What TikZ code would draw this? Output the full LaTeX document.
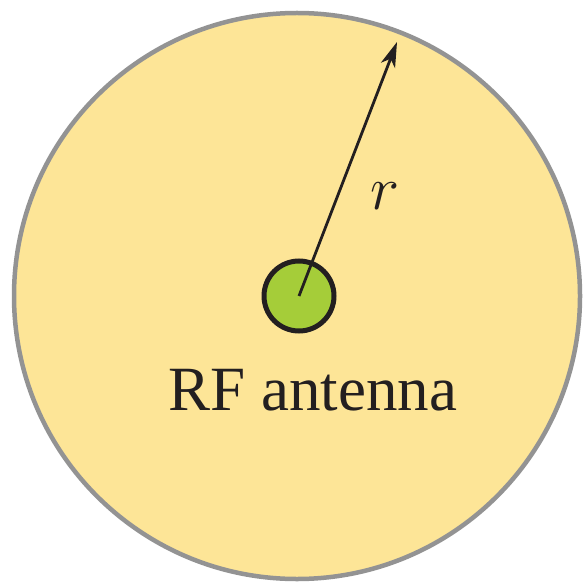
\documentclass[tikz,border=0pt]{standalone}
\usepackage{fix-cm}
\usepackage{fontspec}
\setmainfont{Liberation Serif}
\usetikzlibrary{arrows.meta}
\definecolor{bgyellow}{HTML}{FDE597}
\definecolor{rimgray}{HTML}{939393}
\definecolor{antgreen}{HTML}{A5CD39}
\definecolor{ink}{HTML}{231F20}
\tikzset{
  region/.style={draw=rimgray, fill=bgyellow, line width=4.5pt},
  antenna/.style={circle, draw=ink, fill=antgreen, line width=5pt, minimum size=70pt, inner sep=0pt},
  radius arrow/.style={draw=ink, line width=2.8pt, -{Stealth[length=25pt, width=15pt, inset=7pt]}},
  lbl/.style={inner sep=0pt, text=ink}
}
\begin{document}
\begin{tikzpicture}[x=1pt, y=-1pt]
\useasboundingbox (0,0) rectangle (582,585);
\node[region, circle, minimum size=566pt, inner sep=0pt] (zone) at (297,296) {};
\node[antenna] (ant) at (299,296) {};
\coordinate (tip) at (397,42);
\draw[radius arrow] (ant.center) -- (tip);
\node[lbl] (r) at (385,196) {\fontsize{62}{62}\selectfont$r$};
\node[lbl, anchor=base] (label) at (313,410) {\fontsize{63}{63}\selectfont RF antenna};
\end{tikzpicture}
\end{document}
